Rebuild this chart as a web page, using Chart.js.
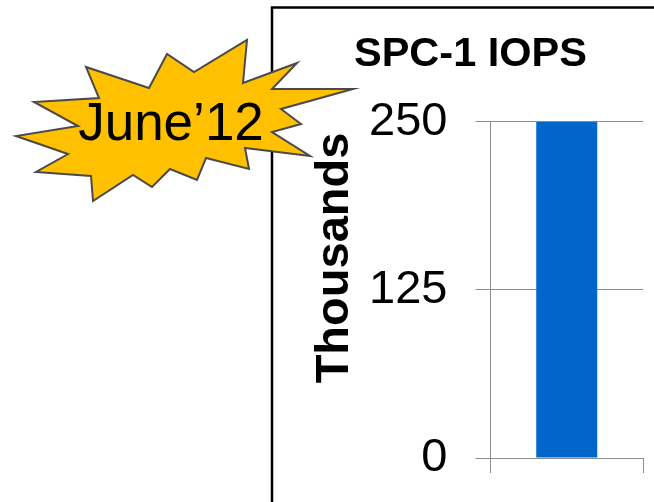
<!DOCTYPE html>
<html>
<head>
<meta charset="utf-8">
<title>SPC-1 IOPS</title>
<script src="https://cdn.jsdelivr.net/npm/chart.js@4"></script>
<style>
  html, body { margin: 0; padding: 0; background: #fff; }
  canvas { display: block; }
</style>
</head>
<body>
<canvas id="chart" width="654" height="502"></canvas>
<script>
const categories = ['SPC-1 IOPS'];
const iopsThousands = [250];
const tickValues = [0, 125, 250];
const chartTitle = 'SPC-1 IOPS';
const axisTitle = 'Thousands';
const badgeText = 'June\u201912';

const FONT = '"Liberation Sans", Arial, sans-serif';
const AXIS_GREY = '#8e8e8e';

// Outline of the starburst badge.
const burstOutline = [
  [247, 40], [243, 83], [297, 63], [272, 89], [353, 89], [281, 109], [301, 124],
  [272, 132], [310, 156], [245, 148], [249, 169], [206, 158], [197, 180], [170, 169],
  [152, 187], [133, 175], [93, 201], [91, 176], [36, 172], [68, 154], [16, 136],
  [78, 126], [34, 102], [99, 98], [86, 67], [149, 88], [167, 54], [194, 72]
];

// Black frame behind the chart; it runs off the right and bottom edges.
const framePlugin = {
  id: 'frame',
  beforeDraw(chart) {
    const ctx = chart.ctx;
    ctx.save();
    ctx.strokeStyle = '#000';
    ctx.lineWidth = 2.5;
    ctx.beginPath();
    ctx.moveTo(272, 502);
    ctx.lineTo(272, 7.5);
    ctx.lineTo(654, 7.5);
    ctx.stroke();
    ctx.restore();
  }
};

// Rotated axis caption and the "June'12" starburst on top of everything.
const overlayPlugin = {
  id: 'overlay',
  afterDraw(chart) {
    const ctx = chart.ctx;
    ctx.save();
    ctx.translate(335, 258);
    ctx.rotate(-Math.PI / 2);
    ctx.font = 'bold 47px ' + FONT;
    ctx.fillStyle = '#000';
    ctx.textAlign = 'center';
    ctx.textBaseline = 'middle';
    ctx.fillText(axisTitle, 0, 0);
    ctx.restore();

    ctx.save();
    ctx.beginPath();
    burstOutline.forEach(([x, y], i) => (i ? ctx.lineTo(x, y) : ctx.moveTo(x, y)));
    ctx.closePath();
    ctx.fillStyle = '#FFC000';
    ctx.fill();
    ctx.strokeStyle = '#4a4a4a';
    ctx.lineWidth = 2;
    ctx.lineJoin = 'miter';
    ctx.stroke();
    ctx.font = '53px ' + FONT;
    ctx.fillStyle = '#000';
    ctx.textAlign = 'center';
    ctx.textBaseline = 'middle';
    ctx.fillText(badgeText, 171, 125);
    ctx.restore();
  }
};

new Chart(document.getElementById('chart'), {
  type: 'bar',
  data: {
    labels: categories,
    datasets: [{
      data: iopsThousands,
      backgroundColor: '#0066CC',
      barPercentage: 0.4,
      categoryPercentage: 1
    }]
  },
  plugins: [framePlugin, overlayPlugin],
  options: {
    responsive: false,
    animation: false,
    devicePixelRatio: 1,
    layout: { autoPadding: false, padding: { left: 354, right: 11, top: 30, bottom: 29 } },
    plugins: {
      legend: { display: false },
      tooltip: { enabled: false },
      title: {
        display: true,
        text: chartTitle,
        align: 'start',
        color: '#000',
        font: { family: FONT, size: 41.5, weight: 'bold' },
        padding: { top: 0, bottom: 42 }
      }
    },
    scales: {
      x: {
        grid: { display: true, drawOnChartArea: false, tickLength: 15, color: AXIS_GREY, offset: true },
        border: { display: true, color: AXIS_GREY },
        ticks: { display: false },
        afterFit(scale) { scale.height = 15; }
      },
      y: {
        min: 0,
        max: 250,
        afterBuildTicks(scale) { scale.ticks = tickValues.map(value => ({ value })); },
        grid: { color: AXIS_GREY, tickLength: 15 },
        border: { display: true, color: AXIS_GREY },
        ticks: { color: '#000', padding: 28, font: { family: FONT, size: 47 } },
        afterFit(scale) {
          scale.width = 136.5;
          // Let the tick labels overhang the plot without shrinking it.
          scale.paddingTop = 0;
          scale.paddingBottom = 0;
        }
      }
    }
  }
});
</script>
</body>
</html>
